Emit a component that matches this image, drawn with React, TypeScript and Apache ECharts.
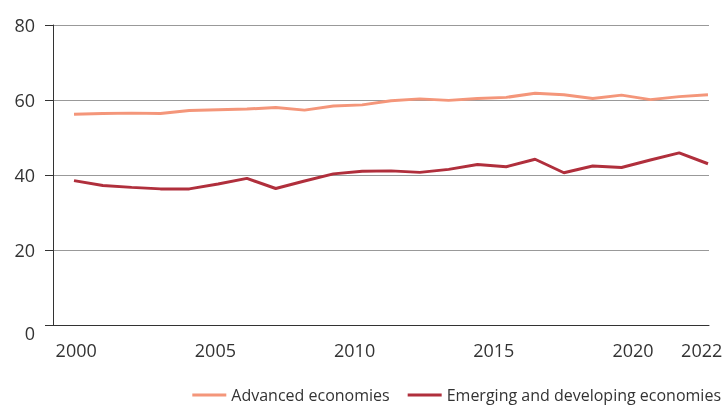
import React, { useEffect, useRef } from "react";
import * as echarts from "echarts";

const years = [2000, 2001, 2002, 2003, 2004, 2005, 2006, 2007, 2008, 2009, 2010, 2011, 2012, 2013, 2014, 2015, 2016, 2017, 2018, 2019, 2020, 2021, 2022];
const advanced = [56.2, 56.4, 56.5, 56.4, 57.2, 57.4, 57.6, 58.0, 57.3, 58.4, 58.7, 59.8, 60.3, 59.9, 60.4, 60.7, 61.8, 61.4, 60.4, 61.3, 60.1, 60.9, 61.4];
const emerging = [38.5, 37.2, 36.7, 36.3, 36.3, 37.6, 39.1, 36.4, 38.4, 40.3, 41.0, 41.1, 40.7, 41.5, 42.8, 42.2, 44.2, 40.6, 42.4, 42.0, 44.0, 45.9, 43.0];
const xTickLabels = [2000, 2005, 2010, 2015, 2020, 2022];
const seriesNames = ["Advanced economies", "Emerging and developing economies"];
const colors = ["#F4967A", "#B02F3C"];

export default function App() {
  const ref = useRef<HTMLDivElement>(null);
  useEffect(() => {
    if (!ref.current) return;
    const chart = echarts.init(ref.current, undefined, { renderer: "svg" });
    const font = "'Open Sans', sans-serif";
    chart.setOption({
      animation: false,
      textStyle: { fontFamily: font },
      grid: { left: 53, right: 18, top: 25, bottom: 80, containLabel: false },
      legend: {
        right: 6,
        top: 386,
        padding: 0,
        itemWidth: 34,
        itemHeight: 3,
        itemGap: 18,
        icon: "rect",
        textStyle: { fontSize: 16, lineHeight: 18, color: "#333", fontFamily: font },
        data: seriesNames,
      },
      xAxis: [
        {
          type: "value",
          min: 1999.271,
          max: 2022.035,
          axisLine: { show: true, lineStyle: { color: "#333", width: 1 } },
          axisTick: { show: false },
          axisLabel: { show: false },
          splitLine: { show: false },
        },
        {
          type: "value",
          position: "bottom",
          min: 1999.167,
          max: 2022.73,
          axisLine: { show: false },
          axisTick: { show: false },
          splitLine: { show: false },
          axisLabel: {
            show: true,
            customValues: xTickLabels,
            margin: 16,
            fontSize: 18,
            color: "#333",
            fontFamily: font,
            formatter: (v: number) => (v === 2022 ? "{r|" + v + "}" : String(v)),
            rich: { r: { padding: [0, 0, 0, 26], fontSize: 18, color: "#333", fontFamily: font } },
          },
        },
      ],
      yAxis: {
        type: "value",
        min: 0,
        max: 80,
        interval: 20,
        axisLine: { show: true, lineStyle: { color: "#333", width: 1 } },
        axisTick: { show: true, length: 8, lineStyle: { color: "#333" } },
        axisLabel: {
          margin: 18,
          fontSize: 18,
          color: "#333",
          fontFamily: font,
          formatter: (v: number) => (v === 0 ? "{z|0}" : String(v)),
          rich: { z: { padding: [16, 0, 0, 0], fontSize: 18, color: "#333", fontFamily: font } },
        },
        splitLine: { show: true, lineStyle: { color: "#999", width: 1 } },
      },
      series: [
        {
          name: seriesNames[0],
          type: "line",
          xAxisIndex: 0,
          data: years.map((y, i) => [y, advanced[i]]),
          showSymbol: false,
          lineStyle: { color: colors[0], width: 3 },
          itemStyle: { color: colors[0] },
        },
        {
          name: seriesNames[1],
          type: "line",
          xAxisIndex: 0,
          data: years.map((y, i) => [y, emerging[i]]),
          showSymbol: false,
          lineStyle: { color: colors[1], width: 3 },
          itemStyle: { color: colors[1] },
        },
      ],
    });
    return () => chart.dispose();
  }, []);
  return <div ref={ref} style={{ position: "fixed", left: 0, top: 0, width: 727, height: 405 }} />;
}
